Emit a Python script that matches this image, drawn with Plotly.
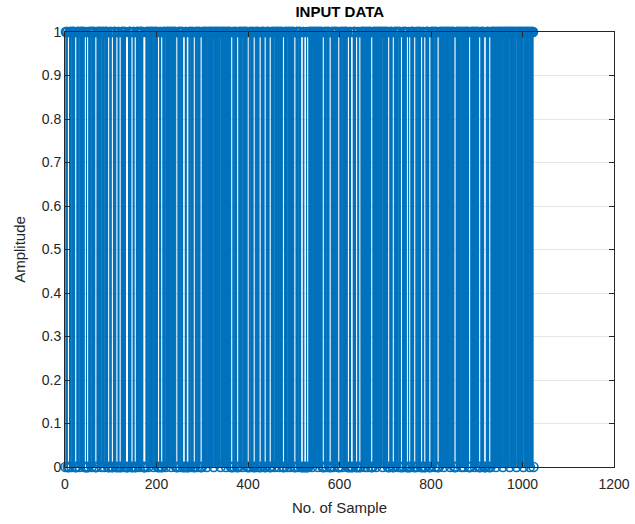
import plotly.graph_objects as go

# ---- data ----
n_samples = 1024
# runs of zeros (start sample, length) read from the white gaps
zero_runs = [
    (1, 1), (6, 4), (22, 4), (43, 4), (48, 4), (66, 4), (94, 4), (102, 4), (112, 4),
    (119, 4), (133, 6), (145, 4), (152, 4), (171, 6), (203, 4), (210, 4), (243, 4),
    (258, 5), (266, 5), (281, 4), (296, 4), (363, 4), (376, 4), (399, 4), (412, 4),
    (425, 4), (436, 4), (447, 4), (476, 4), (501, 4), (516, 5), (523, 5), (529, 4),
    (563, 4), (578, 4), (597, 4), (618, 4), (625, 5), (636, 4), (643, 4), (669, 4),
    (706, 4), (716, 4), (734, 4), (747, 4), (752, 4), (763, 4), (778, 4), (785, 4),
    (796, 4), (814, 4), (851, 4), (883, 4), (905, 4), (916, 5), (927, 4), (1024, 1),
]
# isolated zero samples (not visible as gaps, seen via the continuous band at 0)
single_zeros = [
    14, 32, 58, 80, 86, 127, 162, 182, 194, 220, 232, 252, 274, 289, 310, 325,
    340, 352, 370, 388, 406, 420, 458, 468, 486, 492, 510, 540, 553, 572, 586,
    606, 656, 662, 680, 694, 729, 741, 770, 808, 828, 842, 866, 872, 896, 942,
    957, 972, 987, 1002, 1016,
]
y_ticks = [0, 0.1, 0.2, 0.3, 0.4, 0.5, 0.6, 0.7, 0.8, 0.9, 1]
y_tick_labels = ["0", "0.1", "0.2", "0.3", "0.4", "0.5", "0.6", "0.7", "0.8", "0.9", "1"]
x_ticks = [0, 200, 400, 600, 800, 1000, 1200]

# ---- build sample values ----
zero_set = set(single_zeros)
for s, ln in zero_runs:
    zero_set.update(range(s, s + ln))
samples = list(range(1, n_samples + 1))
values = [0 if i in zero_set else 1 for i in samples]

stem_x, stem_y = [], []
for i, v in zip(samples, values):
    if v:
        stem_x += [i, i, None]
        stem_y += [0, v, None]

BLUE = "#0072BD"
AX = "#262626"
FONT = "Liberation Sans, Arial, sans-serif"

fig = go.Figure()
fig.add_trace(go.Scatter(x=stem_x, y=stem_y, mode="lines",
                         line=dict(color=BLUE, width=1.15), hoverinfo="skip",
                         showlegend=False))
fig.add_trace(go.Scatter(x=samples, y=values, mode="markers",
                         marker=dict(symbol="circle-open", size=9, color=BLUE,
                                     line=dict(width=1.6, color=BLUE)),
                         cliponaxis=False, showlegend=False))

fig.update_layout(
    width=635, height=524,
    margin=dict(l=65, r=21, t=32, b=57),
    paper_bgcolor="white", plot_bgcolor="white",
    font=dict(family=FONT, size=14, color=AX),
    title=dict(text="<b>INPUT DATA</b>", x=0.535, xanchor="center", y=0.977,
               yanchor="middle", font=dict(family=FONT, size=15, color="black")),
)
fig.update_xaxes(range=[0, 1200], tickvals=x_ticks, ticks="inside", ticklen=5,
                 tickcolor=AX, showline=True, linecolor=AX, linewidth=1,
                 mirror="allticks", showgrid=True, gridcolor="#e6e6e6",
                 zeroline=False, automargin=False, ticklabelstandoff=4,
                 title=dict(text="No. of Sample", standoff=11, font=dict(size=15)),
                 tickfont=dict(size=14))
fig.update_yaxes(range=[0, 1], tickvals=y_ticks, ticktext=y_tick_labels,
                 ticks="inside", ticklen=5, tickcolor=AX, showline=True,
                 linecolor=AX, linewidth=1, mirror="allticks", showgrid=True,
                 gridcolor="#e6e6e6", zeroline=False, automargin=False,
                 title=dict(text="Amplitude", standoff=12, font=dict(size=15)),
                 tickfont=dict(size=14))

fig.write_html("out.html")
